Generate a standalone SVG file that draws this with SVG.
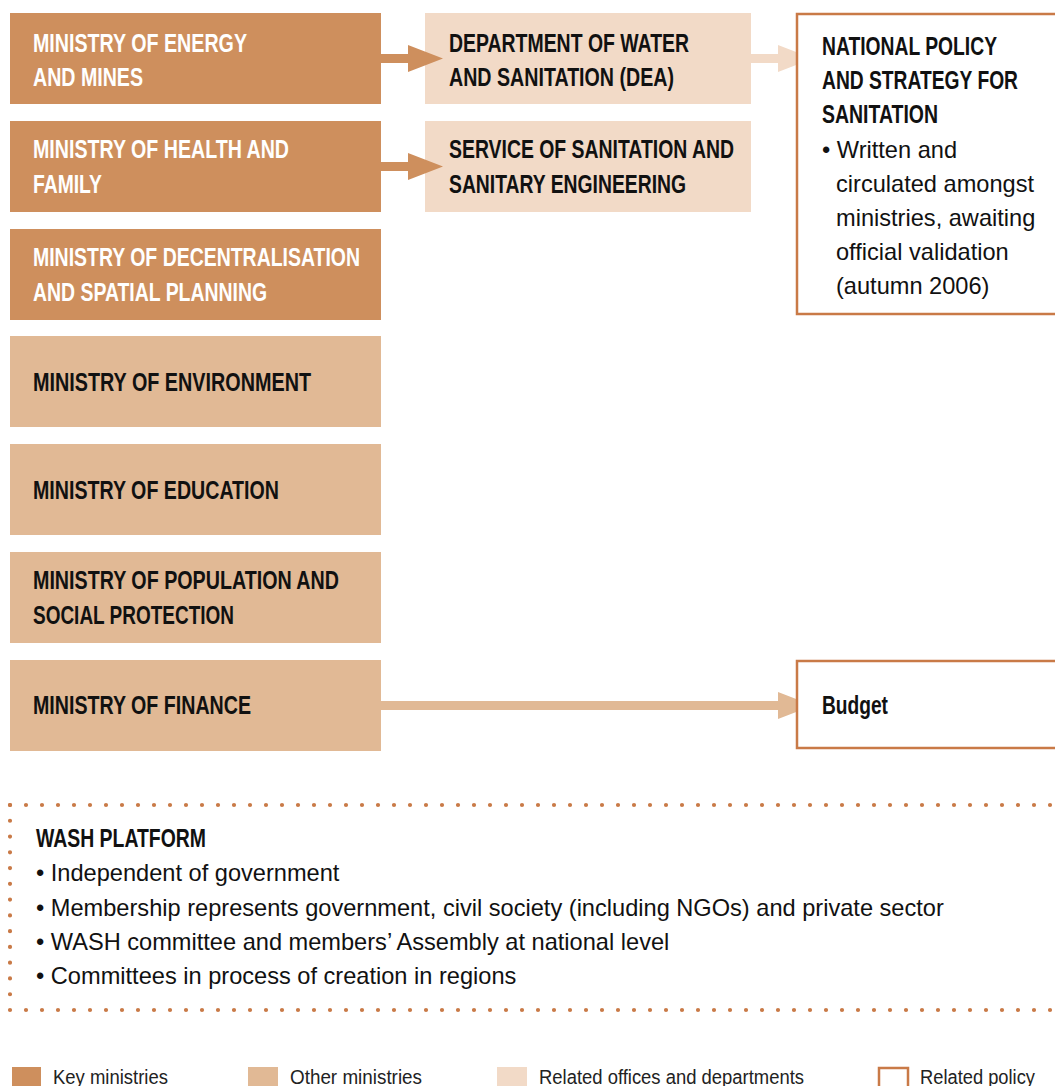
<svg xmlns="http://www.w3.org/2000/svg" width="1055" height="1086" viewBox="0 0 1055 1086">
<style>
.key{fill:#CE8F5D}
.other{fill:#E1B995}
.rel{fill:#F2DAC7}
.pol{fill:#fff;stroke:#C97A47;stroke-width:2.5}
.hw{font-family:"Liberation Sans",Arial,sans-serif;font-weight:bold;font-size:25px;fill:#fff}
.hb{font-family:"Liberation Sans",Arial,sans-serif;font-weight:bold;font-size:25px;fill:#111}
.body{font-family:"Liberation Sans",Arial,sans-serif;font-size:23.6px;fill:#111}
.leg{font-family:"Liberation Sans",Arial,sans-serif;font-size:20px;fill:#222}
.dots{fill:none;stroke:#C97A47;stroke-width:4.2;stroke-linecap:round}
</style>
<rect width="1055" height="1086" fill="#fff"/>

<g id="min-energy">
<rect class="key" x="10" y="13" width="371" height="91"/>
<text class="hw" x="33" y="52" textLength="214" lengthAdjust="spacingAndGlyphs">MINISTRY OF ENERGY</text>
<text class="hw" x="33" y="86" textLength="110" lengthAdjust="spacingAndGlyphs">AND MINES</text>
</g>
<g id="min-health">
<rect class="key" x="10" y="121" width="371" height="91"/>
<text class="hw" x="33" y="158" textLength="256" lengthAdjust="spacingAndGlyphs">MINISTRY OF HEALTH AND</text>
<text class="hw" x="33" y="193" textLength="69" lengthAdjust="spacingAndGlyphs">FAMILY</text>
</g>
<g id="min-decentral">
<rect class="key" x="10" y="229" width="371" height="91"/>
<text class="hw" x="33" y="266" textLength="327" lengthAdjust="spacingAndGlyphs">MINISTRY OF DECENTRALISATION</text>
<text class="hw" x="33" y="301" textLength="234" lengthAdjust="spacingAndGlyphs">AND SPATIAL PLANNING</text>
</g>
<g id="min-environment">
<rect class="other" x="10" y="336" width="371" height="91"/>
<text class="hb" x="33" y="391" textLength="278" lengthAdjust="spacingAndGlyphs">MINISTRY OF ENVIRONMENT</text>
</g>
<g id="min-education">
<rect class="other" x="10" y="444" width="371" height="91"/>
<text class="hb" x="33" y="499" textLength="246" lengthAdjust="spacingAndGlyphs">MINISTRY OF EDUCATION</text>
</g>
<g id="min-population">
<rect class="other" x="10" y="552" width="371" height="91"/>
<text class="hb" x="33" y="589" textLength="306" lengthAdjust="spacingAndGlyphs">MINISTRY OF POPULATION AND</text>
<text class="hb" x="33" y="624" textLength="201" lengthAdjust="spacingAndGlyphs">SOCIAL PROTECTION</text>
</g>
<g id="min-finance">
<rect class="other" x="10" y="660" width="371" height="91"/>
<text class="hb" x="33" y="714" textLength="218" lengthAdjust="spacingAndGlyphs">MINISTRY OF FINANCE</text>
</g>

<g id="dept-water">
<rect class="rel" x="425" y="13" width="326" height="91"/>
<text class="hb" x="449" y="52" textLength="240" lengthAdjust="spacingAndGlyphs">DEPARTMENT OF WATER</text>
<text class="hb" x="449" y="86" textLength="225" lengthAdjust="spacingAndGlyphs">AND SANITATION (DEA)</text>
</g>
<g id="service-sanitation">
<rect class="rel" x="425" y="121" width="326" height="91"/>
<text class="hb" x="449" y="158" textLength="285" lengthAdjust="spacingAndGlyphs">SERVICE OF SANITATION AND</text>
<text class="hb" x="449" y="193" textLength="237" lengthAdjust="spacingAndGlyphs">SANITARY ENGINEERING</text>
</g>

<g id="connectors">
<path fill="#CE8F5D" d="M381 54H408V45L443 58.5L408 72V63H381Z"/>
<path fill="#CE8F5D" d="M381 162H408V153L443 166.5L408 180V171H381Z"/>
<path fill="#F2DAC7" d="M751 54H778V45L813 58.5L778 72V63H751Z"/>
<path fill="#E1B995" d="M381 701H778V692L813 705.5L778 719V710H381Z"/>
</g>

<g id="policy">
<rect class="pol" x="797" y="14" width="270" height="300"/>
<text class="hb" x="822" y="55" textLength="175" lengthAdjust="spacingAndGlyphs">NATIONAL POLICY</text>
<text class="hb" x="822" y="89" textLength="196" lengthAdjust="spacingAndGlyphs">AND STRATEGY FOR</text>
<text class="hb" x="822" y="123" textLength="116" lengthAdjust="spacingAndGlyphs">SANITATION</text>
<text class="body" x="822" y="158">• Written and</text>
<text class="body" x="836" y="192">circulated amongst</text>
<text class="body" x="836" y="226">ministries, awaiting</text>
<text class="body" x="836" y="260">official validation</text>
<text class="body" x="836" y="294">(autumn 2006)</text>
</g>
<g id="budget">
<rect class="pol" x="797" y="661" width="270" height="87"/>
<text class="hb" x="822" y="714" textLength="66" lengthAdjust="spacingAndGlyphs">Budget</text>
</g>

<g id="wash-platform">
<path class="dots" stroke-dasharray="0 16" d="M10 805H1055M10 1010H1055"/>
<path class="dots" stroke-dasharray="0 15.77" d="M10 805V1010"/>
<text class="hb" x="36" y="847" textLength="170" lengthAdjust="spacingAndGlyphs">WASH PLATFORM</text>
<text class="body" x="36" y="881">• Independent of government</text>
<text class="body" x="36" y="916">• Membership represents government, civil society (including NGOs) and private sector</text>
<text class="body" x="36" y="950">• WASH committee and members’ Assembly at national level</text>
<text class="body" x="36" y="984">• Committees in process of creation in regions</text>
</g>

<g id="legend">
<rect class="key" x="12" y="1067" width="29" height="25"/>
<text class="leg" x="53" y="1084" textLength="115" lengthAdjust="spacingAndGlyphs">Key ministries</text>
<rect class="other" x="248" y="1067" width="30" height="25"/>
<text class="leg" x="290" y="1084" textLength="132" lengthAdjust="spacingAndGlyphs">Other ministries</text>
<rect class="rel" x="497" y="1067" width="30" height="25"/>
<text class="leg" x="539" y="1084" textLength="265" lengthAdjust="spacingAndGlyphs">Related offices and departments</text>
<rect class="pol" x="879" y="1068" width="29" height="25"/>
<text class="leg" x="920" y="1084" textLength="115" lengthAdjust="spacingAndGlyphs">Related policy</text>
</g>
</svg>
